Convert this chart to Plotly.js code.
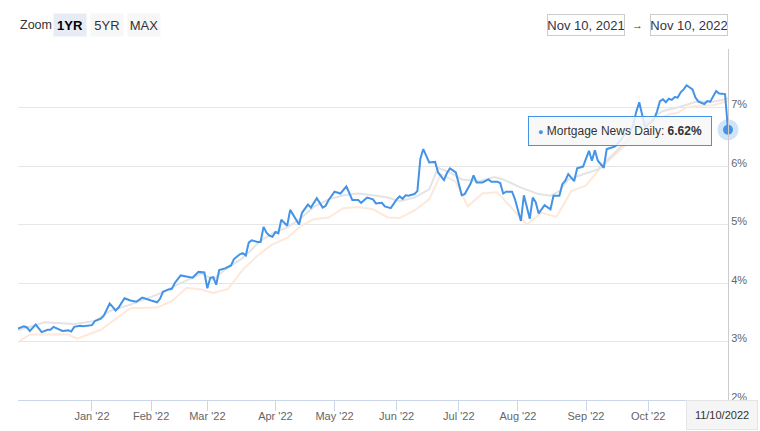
<!DOCTYPE html>
<html><head><meta charset="utf-8">
<script src="https://cdn.plot.ly/plotly-3.0.1.min.js"></script>
<style>html,body{margin:0;padding:0;background:#fff;} #chart{width:760px;height:431px;}</style>
</head><body><div id="chart"></div>
<script>
// ---- Data ----
const mndDates = ['2021-11-26','2021-11-30','2021-12-01','2021-12-02','2021-12-06','2021-12-07','2021-12-08','2021-12-10','2021-12-13','2021-12-14','2021-12-16','2021-12-17','2021-12-21','2021-12-22','2021-12-23','2021-12-28','2021-12-29','2021-12-30',
'2022-01-03','2022-01-04','2022-01-06','2022-01-07','2022-01-11','2022-01-13','2022-01-14','2022-01-19','2022-01-21','2022-01-25','2022-01-27',
'2022-02-01','2022-02-03','2022-02-04','2022-02-07','2022-02-09','2022-02-10','2022-02-11','2022-02-15','2022-02-22','2022-02-24','2022-02-28',
'2022-03-01','2022-03-02','2022-03-03','2022-03-04','2022-03-07','2022-03-09','2022-03-11','2022-03-14','2022-03-16','2022-03-17','2022-03-18','2022-03-21','2022-03-22','2022-03-24','2022-03-25','2022-03-28','2022-03-29','2022-03-30','2022-03-31',
'2022-04-01','2022-04-04','2022-04-05','2022-04-07','2022-04-08','2022-04-13','2022-04-14','2022-04-19','2022-04-20','2022-04-22','2022-04-26','2022-04-27','2022-04-28',
'2022-05-02','2022-05-04','2022-05-06','2022-05-10','2022-05-12','2022-05-13','2022-05-17','2022-05-19','2022-05-20','2022-05-24','2022-05-25','2022-05-27',
'2022-06-01','2022-06-02','2022-06-03','2022-06-06','2022-06-07','2022-06-09','2022-06-10','2022-06-13','2022-06-14','2022-06-16','2022-06-17','2022-06-21','2022-06-22','2022-06-24','2022-06-27','2022-06-28','2022-06-30',
'2022-07-05','2022-07-06','2022-07-07','2022-07-08','2022-07-11','2022-07-12','2022-07-14','2022-07-18','2022-07-19','2022-07-21','2022-07-22','2022-07-25','2022-07-26','2022-07-28','2022-07-29',
'2022-08-02','2022-08-03','2022-08-05','2022-08-08','2022-08-09','2022-08-10','2022-08-11','2022-08-12','2022-08-16','2022-08-17','2022-08-19','2022-08-22','2022-08-23','2022-08-24','2022-08-25','2022-08-26','2022-08-29','2022-08-31',
'2022-09-02','2022-09-06','2022-09-07','2022-09-08','2022-09-12','2022-09-13','2022-09-15','2022-09-16','2022-09-20','2022-09-21','2022-09-23','2022-09-26','2022-09-27','2022-09-28','2022-09-29','2022-09-30',
'2022-10-03','2022-10-05','2022-10-06','2022-10-07','2022-10-11','2022-10-12','2022-10-13','2022-10-14','2022-10-17','2022-10-18','2022-10-19','2022-10-20','2022-10-21','2022-10-24','2022-10-25','2022-10-26','2022-10-27','2022-10-31',
'2022-11-01','2022-11-02','2022-11-03','2022-11-04','2022-11-07','2022-11-08','2022-11-09','2022-11-10'];
const mndRates = [3.22,3.26,3.24,3.18,3.29,3.23,3.16,3.20,3.20,3.25,3.20,3.18,3.19,3.17,3.25,3.27,3.26,3.27,
3.28,3.35,3.39,3.44,3.65,3.53,3.58,3.74,3.70,3.68,3.75,
3.70,3.67,3.73,3.85,3.89,3.90,4.00,4.13,4.09,4.19,4.18,
3.91,4.09,4.10,3.97,4.22,4.25,4.30,4.41,4.49,4.51,4.47,4.69,4.73,4.70,4.70,4.96,4.86,4.81,4.79,
4.87,4.85,5.08,4.98,5.25,5.00,5.20,5.34,5.29,5.45,5.29,5.32,5.42,
5.56,5.53,5.65,5.42,5.42,5.37,5.46,5.43,5.36,5.37,5.31,5.28,
5.43,5.48,5.44,5.50,5.49,5.52,5.57,6.12,6.29,6.06,6.07,6.07,5.89,5.76,5.88,5.96,5.89,
5.50,5.52,5.60,5.70,5.84,5.72,5.72,5.77,5.73,5.73,5.71,5.53,5.56,5.56,5.43,
5.06,5.50,5.10,5.46,5.38,5.19,5.26,5.33,5.26,5.49,5.49,5.69,5.75,5.86,5.80,5.74,5.96,5.99,
6.26,6.09,6.27,6.09,5.97,6.29,6.32,6.34,6.46,6.54,6.59,6.71,6.93,7.09,6.87,6.66,
6.71,6.80,6.93,7.11,7.14,7.09,7.15,7.13,7.18,7.17,7.26,7.31,7.38,7.34,7.31,7.17,7.10,7.06,
7.11,7.10,7.20,7.28,7.24,7.23,7.23,6.62];

const greyDates = ['2021-11-26','2021-12-09','2021-12-23','2022-01-04','2022-01-11','2022-01-21','2022-02-03','2022-02-11','2022-02-25','2022-03-03','2022-03-09','2022-03-17','2022-03-25','2022-03-31','2022-04-07','2022-04-13','2022-04-21','2022-04-28','2022-05-05','2022-05-12','2022-05-19','2022-05-26','2022-06-02','2022-06-09','2022-06-16','2022-06-22','2022-06-28','2022-07-05','2022-07-13','2022-07-20','2022-07-25','2022-08-02','2022-08-10','2022-08-16','2022-08-19','2022-08-24','2022-08-31','2022-09-08','2022-09-19','2022-09-29','2022-10-11','2022-10-18','2022-10-27','2022-11-02','2022-11-09','2022-11-10'];
const greyRates = [3.19,3.33,3.30,3.35,3.52,3.63,3.80,3.95,4.16,4.06,4.23,4.43,4.72,4.85,4.95,5.08,5.30,5.43,5.50,5.53,5.50,5.46,5.40,5.46,5.60,5.97,5.89,5.77,5.74,5.81,5.77,5.63,5.52,5.49,5.57,5.77,5.86,5.94,6.29,6.71,6.94,7.00,7.11,7.09,7.14,7.16];

const orangeDates = ['2021-11-26','2021-12-02','2021-12-21','2021-12-27','2022-01-06','2022-01-14','2022-01-21','2022-02-03','2022-02-10','2022-02-17','2022-02-25','2022-03-03','2022-03-10','2022-03-17','2022-03-24','2022-03-31','2022-04-07','2022-04-14','2022-04-21','2022-04-28','2022-05-05','2022-05-12','2022-05-19','2022-05-26','2022-06-02','2022-06-09','2022-06-16','2022-06-23','2022-06-30','2022-07-07','2022-07-14','2022-07-21','2022-08-04','2022-08-11','2022-08-18','2022-08-25','2022-09-01','2022-09-09','2022-09-21','2022-09-29','2022-10-06','2022-10-13','2022-10-18','2022-10-21','2022-10-27','2022-11-03','2022-11-10'];
const orangeRates = [2.99,3.12,3.12,3.05,3.20,3.43,3.57,3.58,3.69,3.92,3.89,3.83,3.90,4.23,4.47,4.66,4.77,4.99,5.09,5.12,5.28,5.30,5.26,5.12,5.11,5.24,5.43,5.86,5.73,5.31,5.53,5.55,5.00,5.20,5.13,5.57,5.67,5.97,6.34,6.70,6.80,6.88,6.91,7.00,7.03,7.04,7.11];

const holidays = ['2021-12-24','2022-01-17','2022-02-21','2022-04-15','2022-05-30','2022-06-20','2022-07-04','2022-09-05','2022-10-10'];
const tickDates = ['2022-01-03','2022-02-01','2022-03-01','2022-04-01','2022-05-02','2022-06-01','2022-07-01','2022-08-01','2022-09-01','2022-10-03','2022-11-01'];
const tickLabels = ["Jan '22","Feb '22","Mar '22","Apr '22","May '22","Jun '22","Jul '22","Aug '22","Sep '22","Oct '22","Nov '22"];
const yTicks = [2,3,4,5,6,7,8];
const yTickLabels = ['2%','3%','4%','5%','6%','7%',''];
const zoomButtons = ['1YR','5YR','MAX'];
const rangeFrom = 'Nov 10, 2021';
const rangeTo = 'Nov 10, 2022';
const hoverDateLabel = '11/10/2022';
const seriesName = 'Mortgage News Daily';

// ---- Drawing ----
const BLUE = '#4393e6';
const last = mndDates.length - 1;
const FONT = 'Liberation Sans, Arial, Helvetica, sans-serif';
const L = 18, R = 728, T = 49, B = 400;
const px = v => (v - L) / (R - L);
const py = v => (B - v) / (B - T);

const traces = [
  {x: orangeDates, y: orangeRates, type: 'scatter', mode: 'lines', name: 'Series B',
   line: {color: '#fee8da', width: 2}, hoverinfo: 'skip'},
  {x: greyDates, y: greyRates, type: 'scatter', mode: 'lines', name: 'Series C',
   line: {color: '#e4e4e4', width: 2}, hoverinfo: 'skip'},
  {x: mndDates, y: mndRates, type: 'scatter', mode: 'lines', name: seriesName,
   line: {color: BLUE, width: 2}},
  {x: [mndDates[last]], y: [mndRates[last]], type: 'scatter', mode: 'markers', cliponaxis: false,
   marker: {size: 21, color: 'rgba(67,147,230,0.25)'}, hoverinfo: 'skip'},
  {x: [mndDates[last]], y: [mndRates[last]], type: 'scatter', mode: 'markers', cliponaxis: false,
   marker: {size: 10, color: BLUE}, hoverinfo: 'skip'}
];

const annotations = [];
annotations.push({xref: 'paper', yref: 'paper', x: px(18), y: py(25), xanchor: 'left', yanchor: 'middle',
  text: 'Zoom', showarrow: false, font: {size: 12.5, color: '#333', family: FONT}});
const btnCenters = [70, 107, 144];
zoomButtons.forEach((b, i) => {
  annotations.push({xref: 'paper', yref: 'paper', x: px(btnCenters[i]), y: py(25), xanchor: 'center', yanchor: 'middle',
    text: i === 0 ? '<b>' + b + '</b>' : b, showarrow: false, width: 32, height: 22, borderpad: 0,
    bgcolor: i === 0 ? '#e6ebf5' : '#f7f7f7', font: {size: 13, color: i === 0 ? '#000' : '#333', family: FONT}});
});
annotations.push({xref: 'paper', yref: 'paper', x: px(586), y: py(25), xanchor: 'center', yanchor: 'middle',
  text: rangeFrom, showarrow: false, width: 76, height: 20, borderpad: 0, borderwidth: 1, bordercolor: '#cccccc',
  bgcolor: '#ffffff', font: {size: 13, color: '#333344', family: FONT}});
annotations.push({xref: 'paper', yref: 'paper', x: px(637), y: py(25), xanchor: 'center', yanchor: 'middle',
  text: '→', showarrow: false, font: {size: 11, color: '#333', family: FONT}});
annotations.push({xref: 'paper', yref: 'paper', x: px(689), y: py(25), xanchor: 'center', yanchor: 'middle',
  text: rangeTo, showarrow: false, width: 76, height: 20, borderpad: 0, borderwidth: 1, bordercolor: '#cccccc',
  bgcolor: '#ffffff', font: {size: 13, color: '#333344', family: FONT}});
// tooltip
annotations.push({x: mndDates[last], y: mndRates[last], xref: 'x', yref: 'y', xanchor: 'right', yanchor: 'middle',
  xshift: -16, yshift: -1, showarrow: false,
  text: '<span style="color:' + BLUE + ';font-size:9px">●</span> ' + seriesName + ': <b>' + mndRates[last].toFixed(2) + '%</b>',
  bgcolor: 'rgba(247,247,247,0.85)', bordercolor: BLUE, borderwidth: 1, borderpad: 7, width: 168,
  font: {size: 12, color: '#333', family: FONT}});
// crosshair date label
annotations.push({xref: 'paper', yref: 'paper', x: px(722), y: py(414.5), xanchor: 'center', yanchor: 'middle',
  text: hoverDateLabel, showarrow: false, width: 70, height: 28, borderpad: 0, borderwidth: 1, bordercolor: '#e4e4e4',
  bgcolor: '#f5f5f5', font: {size: 11, color: '#333', family: FONT}});

const layout = {
  width: 760, height: 431,
  margin: {l: L, r: 760 - R, t: T, b: 431 - B, pad: 0},
  paper_bgcolor: '#ffffff', plot_bgcolor: '#ffffff',
  showlegend: false, hovermode: false,
  font: {family: FONT, size: 11, color: '#666'},
  xaxis: {
    type: 'date', range: ['2021-11-26', mndDates[last]],
    rangebreaks: [{bounds: ['sat', 'mon']}, {values: holidays}],
    tickmode: 'array', tickvals: tickDates, ticktext: tickLabels,
    ticks: 'outside', ticklen: 10, tickcolor: '#ccd6eb', tickwidth: 1,
    showgrid: false, zeroline: false, showline: true, linecolor: '#ccd6eb', linewidth: 1,
    tickfont: {size: 11, color: '#666', family: FONT}, ticklabelstandoff: -4
  },
  yaxis: {
    side: 'right', range: [2, 8], tickmode: 'array', tickvals: yTicks, ticktext: yTickLabels,
    showgrid: true, gridcolor: '#e6e6e6', gridwidth: 1, zeroline: false,
    showline: true, linecolor: '#cccccc', linewidth: 1, ticks: '',
    tickfont: {size: 11, color: '#666', family: FONT}, ticklabelshift: -3, ticklabelstandoff: 0
  },
  annotations: annotations
};

Plotly.newPlot('chart', traces, layout, {staticPlot: true, displayModeBar: false});
</script></body></html>
